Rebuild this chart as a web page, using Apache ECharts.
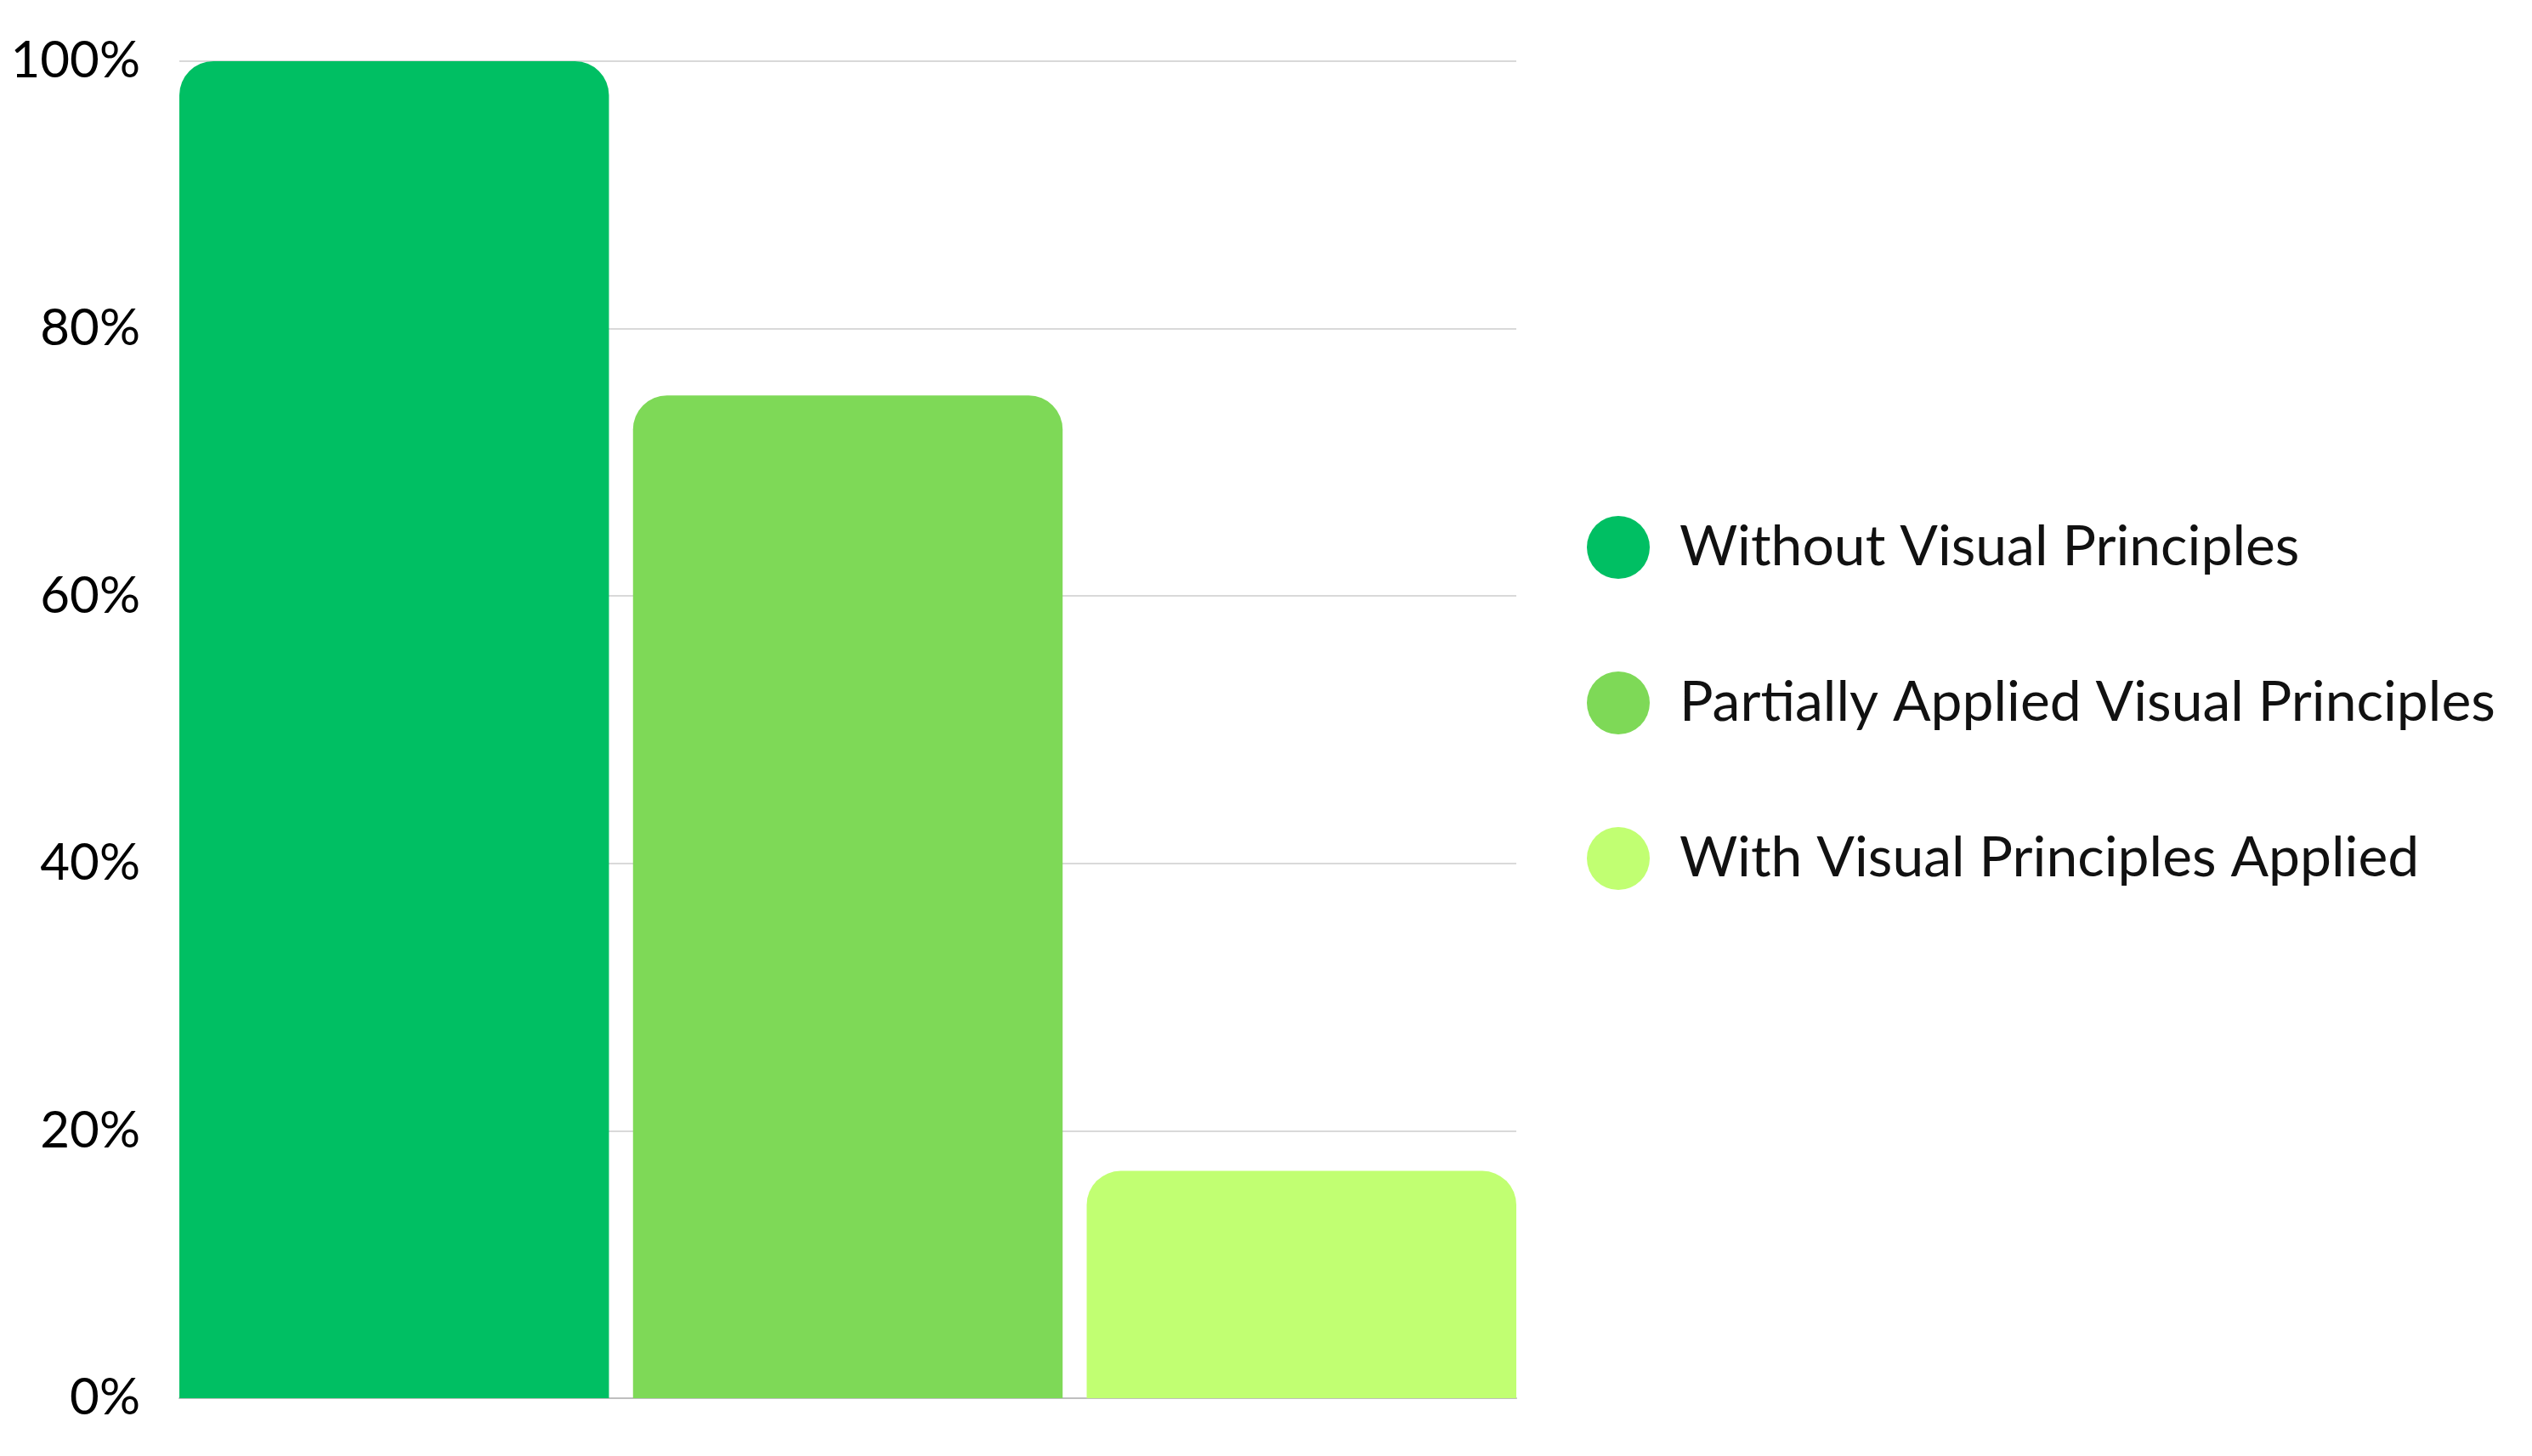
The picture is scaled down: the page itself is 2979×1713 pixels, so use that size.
<!DOCTYPE html>
<html>
<head>
<meta charset="utf-8">
<script src="https://cdn.jsdelivr.net/npm/echarts@6/dist/echarts.min.js"></script>
<style>
  html, body { margin: 0; padding: 0; background: #fff; }
  #chart { width: 2979px; height: 1713px; }
</style>
</head>
<body>
<div id="chart"></div>
<script>
var categories = ['Result'];
var seriesNames = ['Without Visual Principles', 'Partially Applied Visual Principles', 'With Visual Principles Applied'];
var seriesValues = [[100], [75], [17]];
var seriesColors = ['#00BF63', '#7ED957', '#C1FF72'];
var yTicks = [0, 20, 40, 60, 80, 100];

var myChart = echarts.init(document.getElementById('chart'));

var series = seriesNames.map(function (name, i) {
    return {
        name: name,
        type: 'bar',
        data: seriesValues[i],
        barGap: '5.6%',
        barCategoryGap: '0%',
        itemStyle: {
            color: seriesColors[i],
            borderRadius: [40, 40, 0, 0]
        }
    };
});

var option = {
    animation: false,
    textStyle: { fontFamily: 'Lato' },
    grid: { left: 211, right: 1195, top: 72, bottom: 68 },
    legend: {
        orient: 'vertical',
        left: 1862,
        top: 602,
        icon: 'circle',
        itemWidth: 74,
        itemHeight: 74,
        itemGap: 109,
        textStyle: {
            fontSize: 66,
            color: '#111',
            fontFamily: 'Lato',
            padding: [0, 0, 0, 30]
        },
        data: seriesNames
    },
    xAxis: {
        type: 'category',
        data: categories,
        axisLabel: { show: false },
        axisTick: { show: false },
        axisLine: { lineStyle: { color: '#bfbfbf', width: 2 } }
    },
    yAxis: {
        type: 'value',
        min: yTicks[0],
        max: yTicks[yTicks.length - 1],
        interval: 20,
        axisLabel: {
            formatter: '{value}%',
            fontSize: 60,
            color: '#000',
            margin: 46
        },
        axisLine: { show: false },
        axisTick: { show: false },
        splitLine: { lineStyle: { color: '#d9d9d9', width: 2 } }
    },
    series: series
};

myChart.setOption(option);
</script>
</body>
</html>
